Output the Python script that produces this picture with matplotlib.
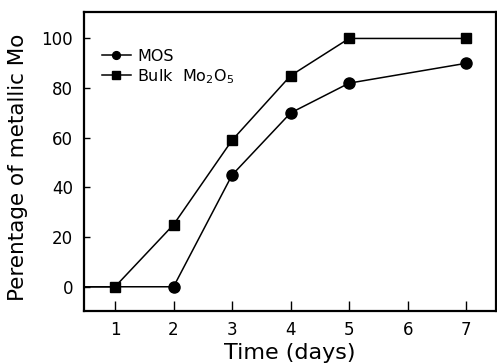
import matplotlib.pyplot as plt

plt.rcParams['font.family'] = ['DejaVu Sans']
plt.rcParams['mathtext.default'] = 'regular'

# days 0 is the common baseline, it sits outside the visible range
days = [0, 1, 2, 3, 4, 5, 7]
mos = [0, 0, 0, 45, 70, 82, 90]
bulk = [0, 0, 25, 59, 85, 100, 100]
xticks = [1, 2, 3, 4, 5, 6, 7]
yticks = [0, 20, 40, 60, 80, 100]

fig = plt.figure(figsize=(4.97, 3.64), dpi=100)
ax = fig.add_axes([0.169, 0.146, 0.829, 0.82])

ax.plot(days, mos, color='black', lw=1.1, marker='o', ms=8,
        markevery=[2, 3, 4, 5, 6], label='MOS')
ax.plot(days, bulk, color='black', lw=1.1, marker='s', ms=7.5,
        markevery=[1, 2, 3, 4, 5, 6], label='Bulk  Mo$_2$O$_5$')

ax.set_xlim(0.47, 7.51)
ax.set_ylim(-9.7, 110.5)
ax.set_xticks(xticks)
ax.set_yticks(yticks)
ax.tick_params(axis='x', direction='in', length=7, width=1, labelsize=12, pad=7)
ax.tick_params(axis='y', direction='in', length=4, width=1, labelsize=12, pad=8)
for s in ax.spines.values():
    s.set_linewidth(1.6)

ax.set_xlabel('Time (days)', fontsize=16, labelpad=3)
ax.set_ylabel('Perentage of metallic Mo', fontsize=15.5)
ax.yaxis.set_label_coords(-0.135, 0.48)

ax.legend(loc='upper left', bbox_to_anchor=(0.02, 0.91), frameon=False,
          fontsize=11.5, handlelength=1.8, handletextpad=0.4,
          labelspacing=0.2, borderaxespad=0.2, markerscale=0.7)

fig.savefig('out.png', dpi=100)
